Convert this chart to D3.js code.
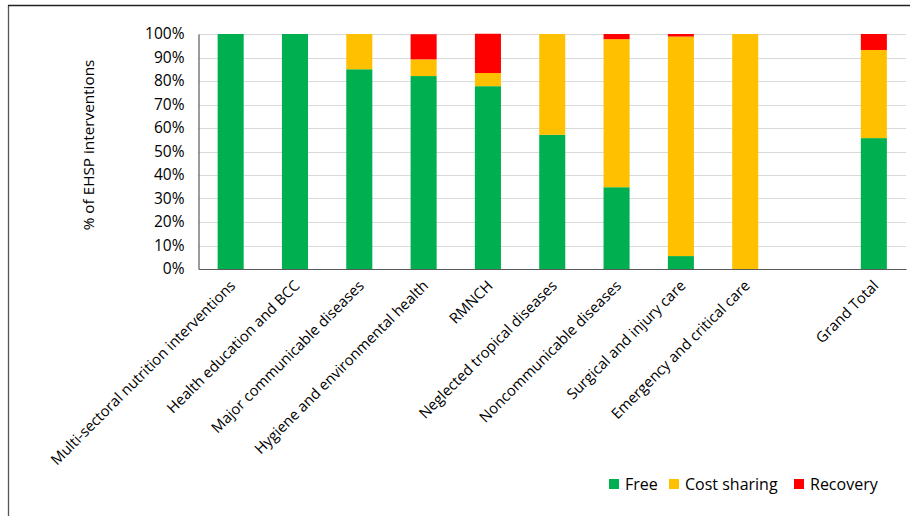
<!DOCTYPE html>
<html><head><meta charset="utf-8">
<script src="https://cdn.jsdelivr.net/npm/d3@7"></script>
<style>body{margin:0;background:#fff}svg{display:block}text{font-family:"Open Sans",sans-serif;fill:#000}</style>
</head><body><svg id="c" width="910" height="516"></svg>
<script>
const categories = ["Multi-sectoral nutrition interventions","Health education and BCC","Major communicable diseases","Hygiene and environmental health","RMNCH","Neglected tropical diseases","Noncommunicable diseases","Surgical and injury care","Emergency and critical care","","Grand Total"];
const free =        [100, 100, 85.0, 82.1, 77.8, 57.1, 34.8, 5.5, 0, 0, 55.7];
const costSharing = [0,   0,   15.0, 7.1,  5.6,  42.9, 63.0, 93.4, 100, 0, 37.5];
const recovery =    [0,   0,   0,    10.7, 16.7, 0,    2.2,  1.1, 0, 0, 6.8];
const seriesNames = ["Free","Cost sharing","Recovery"];
const colors = ["#00B050","#FFC000","#FF0000"];
const yTicks = [0,10,20,30,40,50,60,70,80,90,100];

(function(){
const svg = d3.select("#c");
// frame
svg.append("line").attr("x1",8.5).attr("x2",8.5).attr("y1",5).attr("y2",516).attr("stroke","#555").attr("stroke-width",1.3);
svg.append("line").attr("x1",8).attr("x2",910).attr("y1",5.5).attr("y2",5.5).attr("stroke","#222").attr("stroke-width",1.3);

const mLeft = 198.5, mRight = 906, mTop = 34, mBottom = 269;
const x = d3.scaleBand().domain(d3.range(categories.length)).range([mLeft,mRight]).paddingInner(0.595).paddingOuter(0.2975);
const y = d3.scaleLinear().domain([0,100]).range([mBottom,mTop]);

// gridlines
svg.append("g").selectAll("line").data(yTicks.filter(d=>d>0)).join("line")
  .attr("x1",mLeft).attr("x2",mRight).attr("y1",d=>Math.round(y(d))+0.5).attr("y2",d=>Math.round(y(d))+0.5)
  .attr("stroke","#d9d9d9").attr("stroke-width",1);

const rows = categories.map((c,i)=>({i, "Free":free[i], "Cost sharing":costSharing[i], "Recovery":recovery[i]}));
const stack = d3.stack().keys(seriesNames)(rows);
svg.append("g").selectAll("g").data(stack).join("g").attr("fill",(d,i)=>colors[i])
  .selectAll("rect").data(d=>d).join("rect")
  .attr("x",d=>x(d.data.i)).attr("width",x.bandwidth())
  .attr("y",d=>y(d[1])).attr("height",d=>Math.max(0,y(d[0])-y(d[1])));

// y axis
const yAxis = d3.axisLeft(y).tickValues(yTicks).tickFormat(d=>d+"%").tickSize(0).tickPadding(14);
const ga = svg.append("g").attr("transform",`translate(${mLeft},0)`).call(yAxis);
ga.select(".domain").attr("stroke","#595959").attr("stroke-width",1.2);
ga.selectAll("text").attr("font-size",15.5).attr("font-family","Open Sans").attr("fill","#000");
// x axis
const gx = svg.append("g").attr("transform",`translate(0,${mBottom})`).call(d3.axisBottom(x).tickSize(0).tickFormat(""));
gx.select(".domain").attr("stroke","#595959").attr("stroke-width",1.2);
svg.append("g").selectAll("text").data(categories).join("text")
  .attr("transform",(d,i)=>`translate(${x(i)+x.bandwidth()/2+2},${mBottom+14}) rotate(-45)`)
  .attr("text-anchor","end").attr("dy","0.35em").attr("font-size",14.8).text(d=>d);

svg.append("text").attr("transform","translate(94,145) rotate(-90)").attr("text-anchor","middle")
  .attr("font-size",15.3).text("% of EHSP interventions");

// legend
const legX = [609, 669, 794];
const lg = svg.append("g").selectAll("g").data(seriesNames).join("g").attr("transform",(d,i)=>`translate(${legX[i]},479)`);
lg.append("rect").attr("width",10).attr("height",10).attr("fill",(d,i)=>colors[i]);
lg.append("text").attr("x",16).attr("y",5).attr("dy","0.35em").attr("font-size",16).text(d=>d);
})();
</script></body></html>
